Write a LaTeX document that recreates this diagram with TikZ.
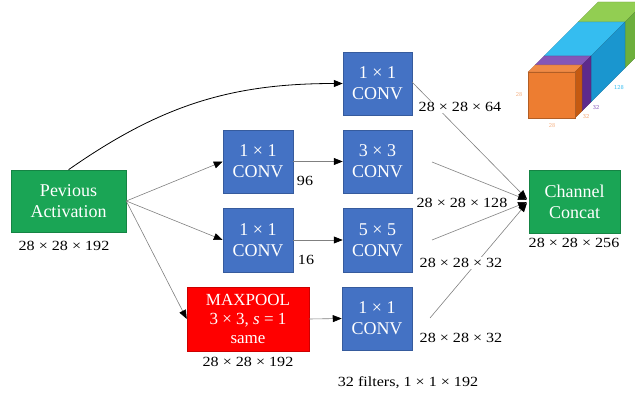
\documentclass[tikz,border=0pt]{standalone}
\usepackage{fontspec}
\setmainfont{Liberation Serif}
\newfontfamily\widefont{Liberation Serif}[FakeStretch=1.15]
\usetikzlibrary{arrows.meta}
\definecolor{convblue}{HTML}{4472C4}
\definecolor{actgreen}{HTML}{1AA555}
\definecolor{poolred}{HTML}{FF0000}
\definecolor{linegray}{HTML}{808080}
\definecolor{orF}{HTML}{ED7D31}
\definecolor{orT}{HTML}{F08A45}
\definecolor{orR}{HTML}{C55A11}
\definecolor{puT}{HTML}{8456B8}
\definecolor{puR}{HTML}{5E2A8C}
\definecolor{blT}{HTML}{35BDF0}
\definecolor{blR}{HTML}{1A96CF}
\definecolor{grT}{HTML}{92CE52}
\definecolor{grR}{HTML}{6DAF3C}
\tikzset{
  box/.style={draw=#1!80!black, line width=0.5pt, fill=#1, text=white, align=center,
    font=\fontsize{18}{21}\selectfont, inner sep=0pt},
  dimlabel/.style={font=\widefont\fontsize{14}{16}\selectfont, fill=white, inner sep=1pt},
  smalllabel/.style={font=\widefont\fontsize{14}{16}\selectfont, inner sep=0pt},
  cubelabel/.style={font=\fontsize{6}{7}\selectfont\sffamily, inner sep=0pt},
  arr/.style={draw=linegray, line width=0.6pt, -{Triangle[length=9pt,width=7pt,color=black]}},
}
\begin{document}
\begin{tikzpicture}[x=1pt,y=-1pt]
\useasboundingbox (0,0) rectangle (635,396);

% cube (oblique projection, depth along (1,-1))
\foreach \ka/\kb/\ct/\cr in {50/70/grT/grR, 16/50/blT/blR, 7/16/puT/puR, 0/7/orT/orR}{
  \fill[\ct, draw=\ct!75!black, line width=0.3pt]
    (528+\ka,72-\ka) -- (575+\ka,72-\ka) -- (575+\kb,72-\kb) -- (528+\kb,72-\kb) -- cycle;
  \fill[\cr, draw=\cr!75!black, line width=0.3pt]
    (575+\ka,72-\ka) -- (575+\kb,72-\kb) -- (575+\kb,118-\kb) -- (575+\ka,118-\ka) -- cycle;
}
\fill[orF, draw=orF!75!black, line width=0.3pt] (528,72) rectangle (575,118);
\node[cubelabel, text=orF!60] (l28a) at (519,95) {28};
\node[cubelabel, text=orF!60] (l28b) at (552,126) {28};
\node[cubelabel, text=orF!70] (l32a) at (586,117) {32};
\node[cubelabel, text=puT] (l32b) at (596,108) {32};
\node[cubelabel, text=blT] (l128) at (619,88) {128};

% boxes
\node[box=actgreen, minimum width=115pt, minimum height=62pt] (act) at (68.5,201) {Pevious\\Activation};
\node[box=convblue, minimum width=69pt, minimum height=63pt] (c1) at (377.5,83.5) {1 × 1\\CONV};
\node[box=convblue, minimum width=70pt, minimum height=63pt] (c2) at (258,161.5) {1 × 1\\CONV};
\node[box=convblue, minimum width=69pt, minimum height=63pt] (c33) at (377.5,161.5) {3 × 3\\CONV};
\node[box=convblue, minimum width=70pt, minimum height=64pt] (c3) at (258,240) {1 × 1\\CONV};
\node[box=convblue, minimum width=69pt, minimum height=64pt] (c55) at (377.5,240) {5 × 5\\CONV};
\node[box=poolred, minimum width=122pt, minimum height=64pt,
      font=\fontsize{17}{19}\selectfont] (mp) at (248,319) {MAXPOOL\\3 × 3, \textit{s} = 1\\same};
\node[box=convblue, minimum width=70pt, minimum height=63pt] (c4) at (377,318.5) {1 × 1\\CONV};
\node[box=actgreen, minimum width=91pt, minimum height=63pt] (cc) at (574.5,201.5) {Channel\\Concat};

% connectors from previous activation
\draw[line width=0.8pt, -{Triangle[length=9pt,width=7pt]}] (act.north) to[out=35,in=180] (c1.west);
\draw[arr] (act.east) -- (c2.west);
\draw[arr] (act.east) -- (c3.west);
\draw[arr] (act.east) -- (mp.west);
\draw[arr] (c2.east) -- (c33.west);
\draw[arr] (c3.east) -- (c55.west);
\draw[arr] (mp.east) -- (c4.west);

% lines into concat
\coordinate (s1) at (412,82);
\coordinate (s2) at (432,162);
\coordinate (s3) at (432,240);
\coordinate (s4) at (430,318);
\coordinate (e1) at (527,199);
\coordinate (e2) at (527,200);
\coordinate (e3) at (527,202);
\coordinate (e4) at (527,203);
\draw[arr] (s1) -- (e1);
\draw[arr] (s2) -- (e2);
\draw[arr] (s3) -- (e3);
\draw[arr] (s4) -- (e4);

% labels
\node[smalllabel] (n96) at (305,181) {96};
\node[smalllabel] (n16) at (306,260) {16};
\node[dimlabel] (d64) at (460,107) {28 × 28 × 64};
\node[dimlabel] (d128) at (462,203) {28 × 28 × 128};
\node[dimlabel] (d32a) at (461,263) {28 × 28 × 32};
\node[dimlabel] (d32b) at (461,338) {28 × 28 × 32};
\node[dimlabel] (d256) at (574,243) {28 × 28 × 256};
\node[dimlabel] (d192a) at (64,246) {28 × 28 × 192};
\node[dimlabel] (d192b) at (248,362) {28 × 28 × 192};
\node[dimlabel] (filt) at (408,383) {32 filters, 1 × 1 × 192};
\end{tikzpicture}
\end{document}
